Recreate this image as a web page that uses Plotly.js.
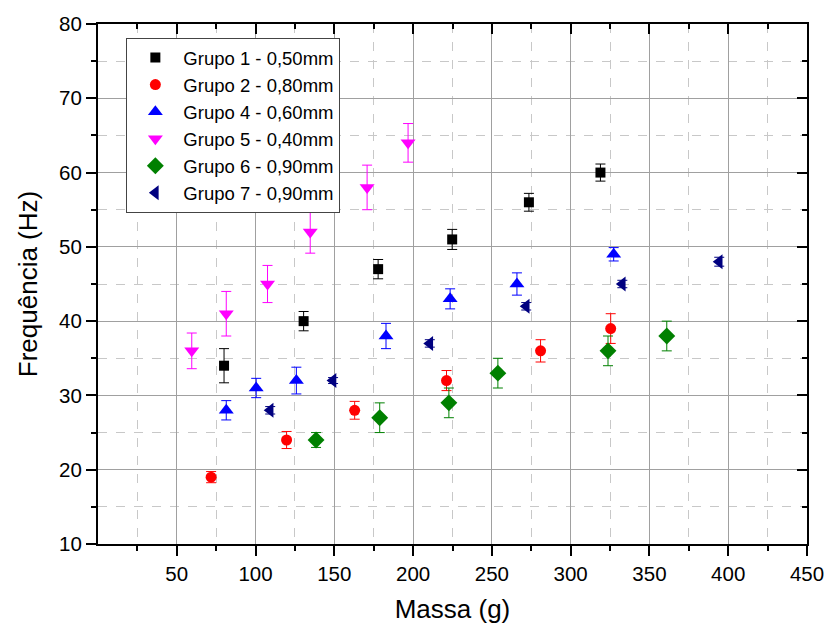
<!DOCTYPE html>
<html>
<head>
<meta charset="utf-8">
<script src="https://cdn.plot.ly/plotly-3.0.1.min.js"></script>
<style>body{margin:0;background:#fff}#chart{width:827px;height:630px}</style>
</head>
<body>
<div id="chart"></div>
<script>
// Grupo 1 - 0,50mm
const g1Mass = [80, 130.5, 177.8, 224.8, 273.5, 318.9];
const g1Freq = [34, 40, 47, 51, 56, 60];
const g1Err  = [2.3, 1.3, 1.3, 1.35, 1.2, 1.15];
// Grupo 2 - 0,80mm
const g2Mass = [71.8, 119.7, 162.9, 221.2, 280.9, 325.4];
const g2Freq = [19, 24, 28, 32, 36, 39];
const g2Err  = [0.75, 1.15, 1.2, 1.35, 1.5, 2];
// Grupo 4 - 0,60mm
const g4Mass = [81.4, 100.4, 125.9, 182.8, 223.5, 265.9, 327.3];
const g4Freq = [28, 31, 32, 38, 43, 45, 49];
const g4Err  = [1.3, 1.3, 1.8, 1.7, 1.35, 1.5, 0.9];
// Grupo 5 - 0,40mm
const g5Mass = [59.5, 81.4, 107.6, 134.7, 170.8, 196.8];
const g5Freq = [36, 41, 45, 52, 58, 64];
const g5Err  = [2.4, 3, 2.5, 2.85, 3, 2.6];
// Grupo 6 - 0,90mm
const g6Mass = [138.4, 178.8, 222.7, 253.8, 323.7, 361];
const g6Freq = [24, 27, 29, 33, 36, 38];
const g6Err  = [1, 2, 2, 2, 2, 2];
// Grupo 7 - 0,90mm
const g7Mass = [109.3, 149.2, 210.6, 271.8, 332.8, 394.3];
const g7Freq = [28, 32, 37, 42, 45, 48];
const g7Err  = [0.5, 0.4, 0.5, 0.5, 0.5, 0.6];

const xTicks = [50, 100, 150, 200, 250, 300, 350, 400, 450];
const xMinor = [25, 75, 125, 175, 225, 275, 325, 375, 425];
const yTicks = [10, 20, 30, 40, 50, 60, 70, 80];
const yMinor = [15, 25, 35, 45, 55, 65, 75];

function mk(name, x, y, e, color, symbol, size) {
  return {
    type: 'scatter', mode: 'markers', name: name, x: x, y: y,
    marker: {color: color, symbol: symbol, size: size},
    error_y: {type: 'data', array: e, visible: true, color: color, thickness: 1, width: 5},
    hoverinfo: 'x+y'
  };
}

const traces = [
  mk('Grupo 1 - 0,50mm', g1Mass, g1Freq, g1Err, '#000000', 'square', 10),
  mk('Grupo 2 - 0,80mm', g2Mass, g2Freq, g2Err, '#ff0000', 'circle', 11),
  mk('Grupo 4 - 0,60mm', g4Mass, g4Freq, g4Err, '#0000ff', 'triangle-up', 13),
  mk('Grupo 5 - 0,40mm', g5Mass, g5Freq, g5Err, '#ff00ff', 'triangle-down', 13),
  mk('Grupo 6 - 0,90mm', g6Mass, g6Freq, g6Err, '#008000', 'diamond', 13),
  mk('Grupo 7 - 0,90mm', g7Mass, g7Freq, g7Err, '#000080', 'triangle-left', 13),
  {type: 'scatter', mode: 'markers', x: [], y: [], xaxis: 'x2', yaxis: 'y2', showlegend: false, hoverinfo: 'skip'}
];

const font = 'Liberation Sans, Arial, sans-serif';
const layout = {
  width: 827, height: 630,
  margin: {l: 98, r: 20, t: 24, b: 86},
  paper_bgcolor: '#fff', plot_bgcolor: '#fff',
  font: {family: font, color: '#000', size: 20},
  showlegend: true,
  legend: {
    x: 0.04, y: 0.973, xanchor: 'left', yanchor: 'top',
    bgcolor: '#fff', bordercolor: '#444', borderwidth: 1,
    font: {family: font, size: 18.5, color: '#000'},
    itemwidth: 46,
    tracegroupgap: 0
  },
  xaxis: {
    range: [0, 450], tickmode: 'array', tickvals: xTicks,
    ticks: 'outside', ticklen: 10, tickwidth: 2, tickcolor: '#000',
    showline: true, linewidth: 2, linecolor: '#000',
    showgrid: true, gridcolor: '#a0a0a0', gridwidth: 1, zeroline: false,
    tickfont: {family: font, size: 20.5},
    minor: {tickmode: 'array', tickvals: xMinor, ticks: 'outside', ticklen: 5, tickwidth: 2, tickcolor: '#000',
            showgrid: true, gridcolor: '#c8c8c8', gridwidth: 1, griddash: 'dash'},
    title: {text: 'Massa (g)', font: {family: font, size: 26}, standoff: 16}
  },
  yaxis: {
    range: [10, 80], tickmode: 'array', tickvals: yTicks,
    ticks: 'outside', ticklen: 10, tickwidth: 2, tickcolor: '#000',
    showline: true, linewidth: 2, linecolor: '#000',
    showgrid: true, gridcolor: '#a0a0a0', gridwidth: 1, zeroline: false,
    tickfont: {family: font, size: 20.5},
    minor: {tickmode: 'array', tickvals: yMinor, ticks: 'outside', ticklen: 5, tickwidth: 2, tickcolor: '#000',
            showgrid: true, gridcolor: '#c8c8c8', gridwidth: 1, griddash: 'dash'},
    title: {text: 'Frequência (Hz)', font: {family: font, size: 26}, standoff: 14}
  },
  xaxis2: {
    overlaying: 'x', side: 'top', anchor: 'y2', range: [0, 450], tickmode: 'array', tickvals: xTicks,
    ticks: 'inside', ticklen: 10, tickwidth: 2, tickcolor: '#000', showticklabels: false,
    showline: true, linewidth: 2, linecolor: '#000', showgrid: false, zeroline: false,
    minor: {tickmode: 'array', tickvals: xMinor, ticks: 'inside', ticklen: 5, tickwidth: 2, tickcolor: '#000', showgrid: false}
  },
  yaxis2: {
    overlaying: 'y', side: 'right', anchor: 'x2', range: [10, 80], tickmode: 'array', tickvals: yTicks,
    ticks: 'inside', ticklen: 10, tickwidth: 2, tickcolor: '#000', showticklabels: false,
    showline: true, linewidth: 2, linecolor: '#000', showgrid: false, zeroline: false,
    minor: {tickmode: 'array', tickvals: yMinor, ticks: 'inside', ticklen: 5, tickwidth: 2, tickcolor: '#000', showgrid: false}
  }
};

Plotly.newPlot('chart', traces, layout, {displayModeBar: false, staticPlot: true});
</script>
</body>
</html>
